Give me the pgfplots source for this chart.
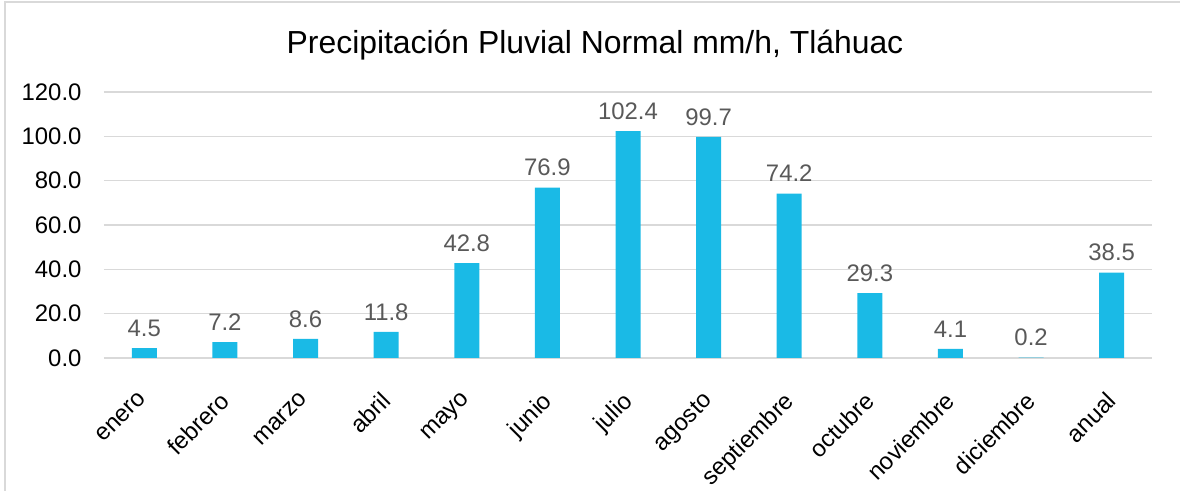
\documentclass[border=0pt]{standalone}
\usepackage{fontspec}
\setmainfont{Liberation Sans}
\usepackage{pgfplots}
\pgfplotsset{compat=1.18}
\definecolor{barc}{HTML}{1ABAE6}
\definecolor{gridc}{HTML}{D9D9D9}
\definecolor{valc}{HTML}{595959}
\begin{document}
\begin{tikzpicture}[x=1bp,y=1bp]
\path[use as bounding box] (-104,-133) rectangle (1076,358);
\draw[gridc,line width=1.5bp] (-99,-133) -- (-99,356) -- (1076,356);
\node[font=\fontsize{32}{36}\selectfont] at (491,313) {Precipitación Pluvial Normal mm/h, Tláhuac};
\begin{axis}[
  at={(0,0)}, anchor=south west,
  scale only axis, width=1048bp, height=266bp,
  ymin=0, ymax=120, ytick={0,20,...,120},
  xmin=-0.5, xmax=12.5,
  xtick=data,
  xticklabels={enero,febrero,marzo,abril,mayo,junio,julio,agosto,septiembre,octubre,noviembre,diciembre,anual},
  axis line style={draw=none},
  ymajorgrids, grid style={gridc,line width=1.2bp},
  major tick length=0pt,
  ybar, bar width=25bp,
  /pgf/number format/assume math mode=true,
  yticklabel style={/pgf/number format/.cd,fixed,fixed zerofill,precision=1,/tikz/.cd, font=\fontsize{24}{28}\selectfont, text=black, xshift=-19bp},
  xticklabel style={rotate=45, anchor=north east, font=\fontsize{24}{28}\selectfont, text=black, yshift=-15bp, xshift=-24bp},
  nodes near coords,
  nodes near coords style={/pgf/number format/.cd,fixed,fixed zerofill,precision=1,/tikz/.cd, font=\fontsize{24}{28}\selectfont, text=valc, yshift=8bp},
  clip=false,
  extra y ticks={0}, extra y tick labels={},
  extra y tick style={grid style={gridc,line width=1.5bp}},
]
\addplot[fill=barc, draw=none] coordinates {
(0,4.5) (1,7.2) (2,8.6) (3,11.8) (4,42.8) (5,76.9) (6,102.4) (7,99.7) (8,74.2) (9,29.3) (10,4.1) (11,0.2) (12,38.5)};
\end{axis}
\end{tikzpicture}
\end{document}
